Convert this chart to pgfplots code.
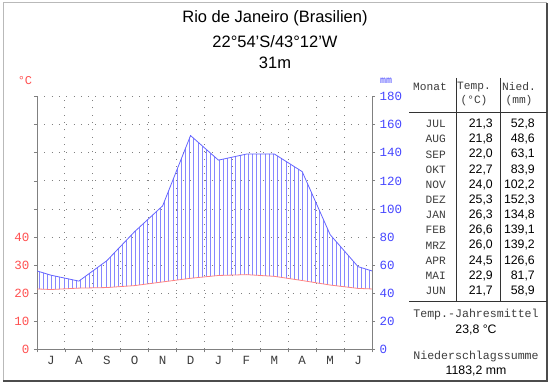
\documentclass[border=0pt]{standalone}
\usepackage{pgfplots}
\pgfplotsset{compat=1.18}
\usepackage{pgfplotstable}
\usepgfplotslibrary{fillbetween}
\usepackage{fontspec}
\setmainfont{Liberation Sans}
\newfontfamily\mono{Liberation Mono}
\definecolor{tred}{RGB}{255,80,80}
\definecolor{tline}{RGB}{255,130,130}
\definecolor{pblue}{RGB}{100,100,255}
\definecolor{lblue}{RGB}{70,70,255}
\definecolor{hatch}{RGB}{135,135,255}
\definecolor{txtgray}{RGB}{60,60,60}

\pgfplotstableread{
x t p
0 21.5 55.85
0.5 21.3 52.8
1.5 21.8 48.6
2.5 22.0 63.1
3.5 22.7 83.9
4.5 24.0 102.2
5.5 25.3 152.3
6.5 26.3 134.8
7.5 26.6 139.1
8.5 26.0 139.2
9.5 24.5 126.6
10.5 22.9 81.7
11.5 21.7 58.9
12 21.5 55.85
}\data

\begin{document}
\begin{tikzpicture}
\path (0,0) rectangle (550bp,384bp);
% frame
\draw[line width=1bp, color=gray!55] (3bp,3bp) -- (3bp,381bp) -- (547bp,381bp);
\draw[line width=1.5bp, color=black!70] (3bp,3bp) -- (547bp,3bp) -- (547bp,381bp);

\pgfplotsset{
  every axis/.append style={
    at={(37bp,34.7bp)}, anchor=south west, scale only axis,
    width=335bp, height=252.6bp, xmin=0, xmax=12,
    tick align=outside, major tick length=3bp,
    tick style={color=gray, line width=0.8bp},
    axis line style={-, color=gray, line width=0.8bp},
    grid style={color=gray, line width=0.9bp, dash pattern=on 0.9bp off 6.4bp},
    /pgf/number format/assume math mode=true,
  }
}
% temperature axis (left)
\begin{axis}[
  ymin=0, ymax=90,
  axis x line*=bottom, axis y line*=left,
  xtick={0,...,12}, xticklabels={}, xmajorgrids,
  ytick={0,10,...,90}, yticklabels={0,10,20,30,40,,,,,},
  yticklabel style={font=\mono\fontsize{12.5bp}{12.5bp}\selectfont, text=tred, xshift=-1bp},
  extra x ticks={0.5,1.5,...,11.5},
  extra x tick labels={J,A,S,O,N,D,J,F,M,A,M,J},
  extra x tick style={grid=none, major tick length=0pt,
    xticklabel style={font=\mono\fontsize{12.5bp}{12.5bp}\selectfont, text=txtgray, yshift=-3bp}},
]
\addplot[draw=none] coordinates {(0,0) (12,90)};
\end{axis}
% precipitation axis (right)
\begin{axis}[
  ymin=0, ymax=180,
  axis x line=none, axis y line*=right,
  xtick=\empty,
  ytick={0,20,...,180}, ymajorgrids,
  yticklabel style={font=\mono\fontsize{12.5bp}{12.5bp}\selectfont, text=lblue, xshift=1bp},
]
\addplot[draw=none, name path=P] table[x=x, y=p]{\data};
\addplot[draw=none, name path=T] table[x=x, y expr=2*\thisrow{t}]{\data};
% humid period: vertical hatching between the two curves
\begin{scope}
\clip[intersection segments={of=P and T, sequence={A* -- B*[reverse]}}];
\pgfplotsinvokeforeach{0,...,80}{
  \draw[hatch, line width=0.85bp] (axis cs:{#1*0.15+0.07},0) -- (axis cs:{#1*0.15+0.07},180);
}
\end{scope}
\addplot[pblue, line width=0.8bp] table[x=x, y=p]{\data};
\addplot[tline, line width=0.8bp] table[x=x, y expr=2*\thisrow{t}]{\data};
\end{axis}

% titles
\node[font=\fontsize{16.5bp}{16.5bp}\selectfont] at (275bp,366bp) {Rio de Janeiro (Brasilien)};
\node[font=\fontsize{16.5bp}{16.5bp}\selectfont] at (275bp,342bp) {22°54'S/43°12'W};
\node[font=\fontsize{16.5bp}{16.5bp}\selectfont] at (275bp,321bp) {31m};
\node[font=\mono\fontsize{12bp}{12bp}\selectfont, text=tred] at (25bp,303bp) {°C};
\node[font=\mono\fontsize{10bp}{10bp}\selectfont, text=lblue] at (386bp,303bp) {mm};

% table
\draw[line width=0.9bp, black!80] (456bp,306bp) -- (456bp,83bp);
\draw[line width=0.9bp, black!80] (500bp,306bp) -- (500bp,83bp);
\draw[line width=0.9bp, black!80] (409bp,272bp) -- (547bp,272bp);
\draw[line width=0.9bp, black!80] (409bp,83bp) -- (547bp,83bp);
\begin{scope}[every node/.style={font=\mono\fontsize{11.2bp}{11.2bp}\selectfont, text=txtgray, inner sep=0pt}]
\node at (430bp,297bp) {Monat};
\node at (474bp,297bp) {Temp.};
\node at (519bp,297bp) {Nied.};
\node at (474bp,283bp) {(°C)};
\node at (519bp,283bp) {(mm)};
\foreach \m [count=\i from 0] in {JUL,AUG,SEP,OKT,NOV,DEZ,JAN,FEB,MRZ,APR,MAI,JUN}
  \node[anchor=east] at (446bp,{(260-15.18*\i)*1bp}) {\m};
\node[font=\mono\fontsize{11.6bp}{11.6bp}\selectfont] at (476bp,69bp) {Temp.-Jahresmittel};
\node[font=\mono\fontsize{11.6bp}{11.6bp}\selectfont] at (476bp,28bp) {Niederschlagssumme};
\end{scope}
\begin{scope}[every node/.style={font=\fontsize{12.3bp}{12.3bp}\selectfont, inner sep=0pt}]
\foreach \v/\w [count=\i from 0] in {{21,3}/{52,8},{21,8}/{48,6},{22,0}/{63,1},{22,7}/{83,9},{24,0}/{102,2},{25,3}/{152,3},{26,3}/{134,8},{26,6}/{139,1},{26,0}/{139,2},{24,5}/{126,6},{22,9}/{81,7},{21,7}/{58,9}}
  {\node[anchor=east] at (493bp,{(260-15.18*\i)*1bp}) {\v};
   \node[anchor=east] at (535bp,{(260-15.18*\i)*1bp}) {\w};}
\node at (476bp,54bp) {23,8 °C};
\node at (476bp,13bp) {1183,2 mm};
\end{scope}
\end{tikzpicture}
\end{document}
